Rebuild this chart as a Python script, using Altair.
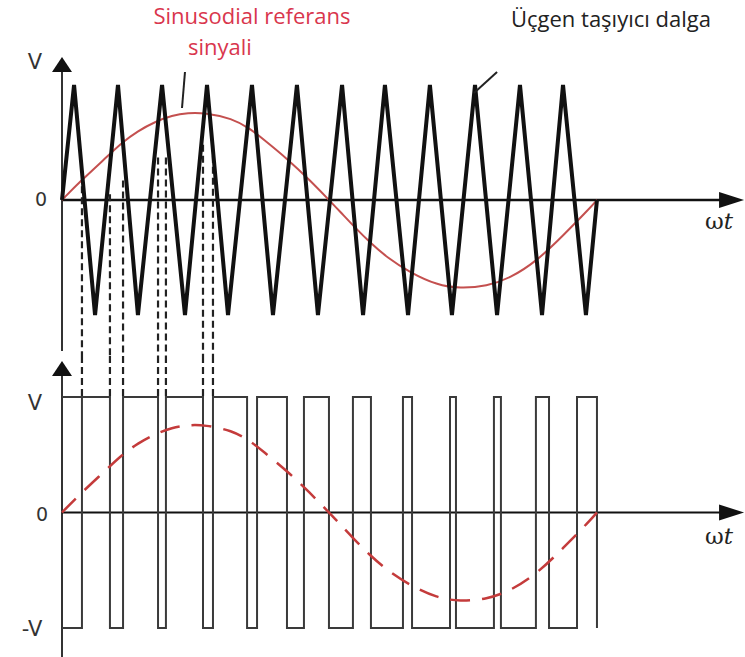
import altair as alt
import pandas as pd

# ---------------- data ----------------
# x in electrical degrees (one period of the reference = 0..360), y in units of the carrier peak
carrier_peak_deg = [8.1, 37.6, 67.2, 97.4, 127.6, 157.8, 188.1, 216.9, 247.1, 277.4, 307.6, 336.5]
carrier_trough_deg = [22.2, 51.0, 82.6, 111.5, 141.7, 171.9, 202.2, 232.4, 261.9, 292.2, 322.4, 351.9]
carrier_start_deg = 0.0
carrier_end_deg = 359.3
carrier_peak = 1.0
carrier_trough = -1.0

sine_deg = [0, 12.1, 28.9, 40.3, 51.0, 62.5, 73.9, 84.6, 96.0, 114.2, 126.3, 135.0, 151.1,
            166.6, 179.3, 186.7, 196.8, 206.9, 218.3, 233.7, 251.9, 267.3, 285.4, 300.9,
            319.0, 336.5, 354.6, 359.3]
sine_val = [0, 0.16, 0.36, 0.50, 0.60, 0.68, 0.735, 0.758, 0.758, 0.71, 0.62, 0.53, 0.36,
            0.17, 0.0, -0.10, -0.24, -0.37, -0.50, -0.63, -0.74, -0.77, -0.75, -0.68,
            -0.53, -0.31, -0.07, 0.0]

pwm_edges_deg = [13.4, 32.2, 41.0, 64.5, 69.8, 94.7, 101.4, 124.3, 131.0, 151.1, 162.5, 179.3,
                 195.4, 207.5, 229.0, 235.1, 260.6, 264.6, 290.1, 294.8, 318.3, 327.1, 345.9, 359.3]
pwm_high = 1.0
pwm_low = -1.0

projection_deg = [13.4, 32.2, 41.0, 64.5, 69.8, 94.7, 101.4]
projection_top = [0.12, 0.05, 0.17, 0.37, 0.37, 0.48, 0.48]

# ---------------- layout ----------------
W = 745
TOP_H = 356
BOT_H = 301
PX_PER_DEG = 536 / 360
X0 = 62
x_domain = [-X0 / PX_PER_DEG, (W - X0) / PX_PER_DEG]
TOP_ZERO, TOP_UNIT = 200, 115
top_domain = [-(TOP_H - TOP_ZERO) / TOP_UNIT, TOP_ZERO / TOP_UNIT]
BOT_ZERO, BOT_UNIT = 156.5, 115.5
bot_domain = [-(BOT_H - BOT_ZERO) / BOT_UNIT, BOT_ZERO / BOT_UNIT]

xs = alt.Scale(domain=x_domain, nice=False, zero=False)
ys_top = alt.Scale(domain=top_domain, nice=False, zero=False)
ys_bot = alt.Scale(domain=bot_domain, nice=False, zero=False)

UP_ARROW = "M0,-0.75L1,0.75L-1,0.75Z"
RIGHT_ARROW = "M1,0L-1,-0.64L-1,0.64Z"


def enc(ys, x2=False, y2=False):
    e = dict(x=alt.X("x:Q", scale=xs, axis=None), y=alt.Y("y:Q", scale=ys, axis=None))
    if x2:
        e["x2"] = alt.X2("x2:Q")
    if y2:
        e["y2"] = alt.Y2("y2:Q")
    return e


def rules(rows, ys, **kw):
    df = pd.DataFrame(rows, columns=["x", "x2", "y", "y2"])
    return alt.Chart(df).mark_rule(**kw).encode(**enc(ys, True, True))


def text(x, y, s, ys, **kw):
    df = pd.DataFrame({"x": [x], "y": [y]})
    return alt.Chart(df).mark_text(text=s, baseline="middle", **kw).encode(**enc(ys))


def arrow(x, y, shape, size, ys):
    df = pd.DataFrame({"x": [x], "y": [y]})
    return alt.Chart(df).mark_point(shape=shape, size=size, filled=True, color="#111111",
                                    opacity=1, strokeWidth=0).encode(**enc(ys))


# ---------------- tables ----------------
tri_x, tri_y = [carrier_start_deg], [0.0]
for p, t in zip(carrier_peak_deg, carrier_trough_deg):
    tri_x += [p, t]
    tri_y += [carrier_peak, carrier_trough]
tri_x.append(carrier_end_deg)
tri_y.append(0.0)
tri_df = pd.DataFrame({"x": tri_x, "y": tri_y})

sine_df = pd.DataFrame({"x": sine_deg, "y": sine_val})

pwm_x = [0.0] + pwm_edges_deg
pwm_y = [pwm_low] + [pwm_high if i % 2 == 0 else pwm_low for i in range(len(pwm_edges_deg))]
pwm_df = pd.DataFrame({"x": pwm_x, "y": pwm_y})

proj_top_df = pd.DataFrame({"x": projection_deg, "y": projection_top,
                            "y2": [top_domain[0]] * len(projection_deg)})
proj_bot_df = pd.DataFrame({"x": projection_deg, "y": [bot_domain[1]] * len(projection_deg),
                            "y2": [pwm_high] * len(projection_deg)})

LABEL_FONT = "DejaVu Sans"
SERIF = "DejaVu Serif"

# ---------------- top panel ----------------
top_layers = [
    rules([[0, 0, 1.13, -1.313]], ys_top, color="#333333", strokeWidth=2),
    rules([[0, 443, 0, 0]], ys_top, color="#111111", strokeWidth=2.5),
    arrow(0, 1.178, UP_ARROW, 400, ys_top),
    arrow(449.7, 0, RIGHT_ARROW, 625, ys_top),
    alt.Chart(proj_top_df).mark_rule(color="#222222", strokeWidth=2.2, strokeDash=[7, 4]).encode(
        x=alt.X("x:Q", scale=xs, axis=None), y=alt.Y("y:Q", scale=ys_top, axis=None), y2="y2:Q"),
    alt.Chart(sine_df).mark_line(color="#c4504f", strokeWidth=2, interpolate="basis").encode(**enc(ys_top)),
    alt.Chart(tri_df).mark_line(color="#111111", strokeWidth=4).encode(**enc(ys_top)),
    # leader lines
    rules([[82.6, 80.6, 1.113, 0.80], [292.2, 276.7, 1.113, 0.93]], ys_top, color="#222222", strokeWidth=2),
    # labels
    text(-18.1, 1.191, "V", ys_top, font=LABEL_FONT, fontSize=21, color="#333333"),
    text(-14.1, 0.0, "0", ys_top, font=LABEL_FONT, fontSize=19, color="#333333"),
    text(444.5, -0.19, "ω", ys_top, font=SERIF, fontSize=23, color="#222222", align="right"),
    text(444.5, -0.19, "t", ys_top, font=SERIF, fontSize=23, color="#222222", align="left", fontStyle="italic"),
    text(127.6, 1.595, "Sinusodial referans", ys_top, font="Open Sans", fontSize=22, color="#d9364d"),
    text(106.1, 1.318, "sinyali", ys_top, font="Open Sans", fontSize=22, color="#d9364d"),
    text(368.7, 1.565, "Üçgen taşıyıcı dalga", ys_top, font="Open Sans", fontSize=22, color="#222222"),
]
top = alt.layer(*top_layers).properties(width=W, height=TOP_H)

# ---------------- bottom panel ----------------
bot_layers = [
    rules([[0, 0, 1.2, bot_domain[0]]], ys_bot, color="#333333", strokeWidth=2),
    rules([[0, 443, 0, 0]], ys_bot, color="#111111", strokeWidth=2.2),
    rules([[0, pwm_edges_deg[0], pwm_high, pwm_high]], ys_bot, color="#3a3a3a", strokeWidth=2),
    arrow(0, 1.247, UP_ARROW, 400, ys_bot),
    arrow(449.7, 0, RIGHT_ARROW, 625, ys_bot),
    alt.Chart(proj_bot_df).mark_rule(color="#222222", strokeWidth=2.2, strokeDash=[7, 4]).encode(
        x=alt.X("x:Q", scale=xs, axis=None), y=alt.Y("y:Q", scale=ys_bot, axis=None), y2="y2:Q"),
    alt.Chart(pwm_df).mark_line(color="#3a3a3a", strokeWidth=2, interpolate="step-after").encode(**enc(ys_bot)),
    alt.Chart(sine_df).mark_line(color="#c43b3b", strokeWidth=2.5, interpolate="basis",
                                 strokeDash=[20, 12]).encode(**enc(ys_bot)),
    text(-18.1, 0.939, "V", ys_bot, font=LABEL_FONT, fontSize=21, color="#333333"),
    text(-13.4, -0.022, "0", ys_bot, font=LABEL_FONT, fontSize=19, color="#333333"),
    text(-20.1, -1.017, "-V", ys_bot, font=LABEL_FONT, fontSize=21, color="#333333"),
    text(444.5, -0.21, "ω", ys_bot, font=SERIF, fontSize=23, color="#222222", align="right"),
    text(444.5, -0.21, "t", ys_bot, font=SERIF, fontSize=23, color="#222222", align="left", fontStyle="italic"),
]
bot = alt.layer(*bot_layers).properties(width=W, height=BOT_H)

chart = alt.vconcat(top, bot, spacing=0, bounds="flush").properties(
    padding=0, background="white"
).configure_view(strokeWidth=0)

chart.save("out.html", embed_options={"renderer": "svg", "actions": False})
